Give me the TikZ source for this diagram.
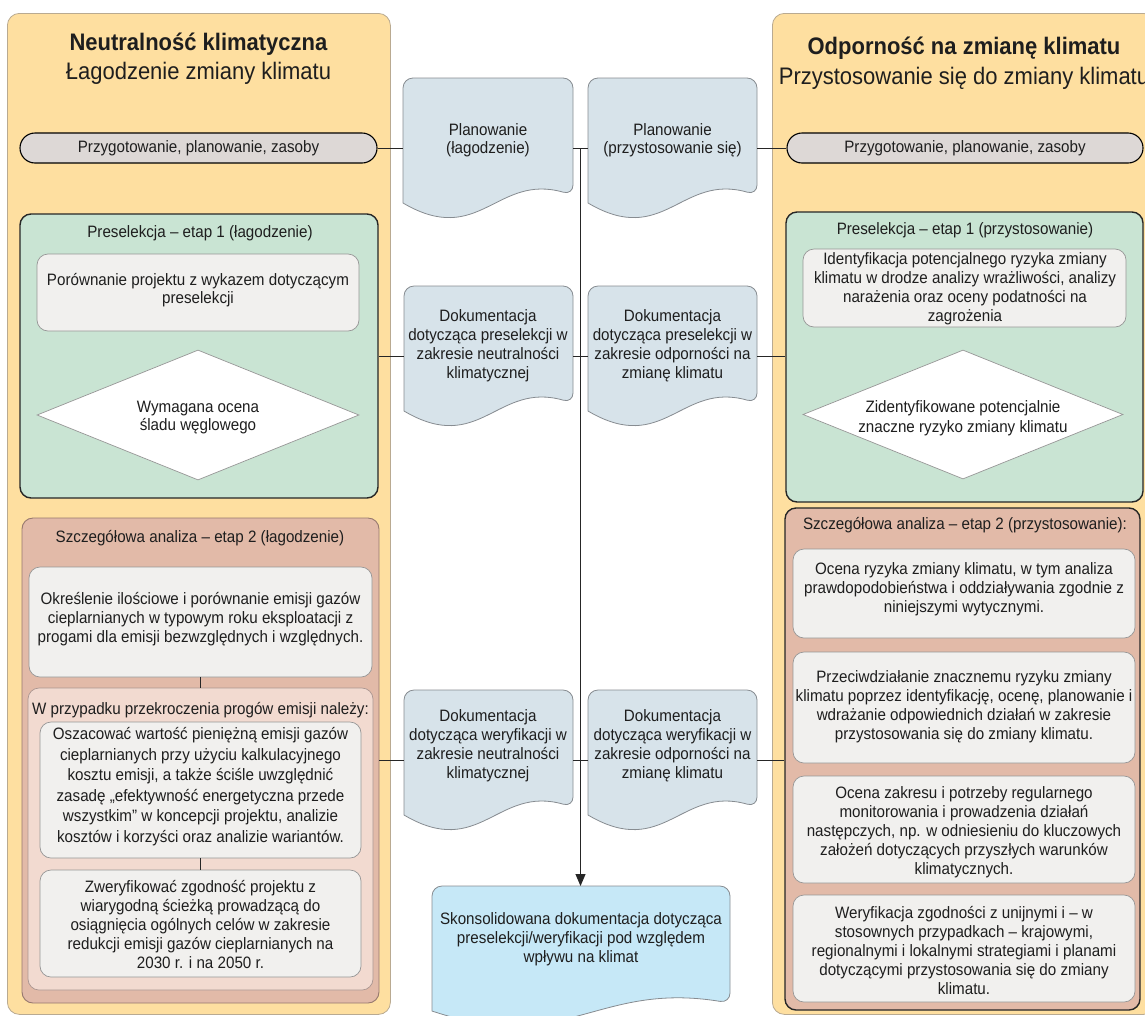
\documentclass[tikz,border=0pt]{standalone}
\usepackage{fontspec}
\setmainfont{Liberation Sans}[FakeStretch=0.92]
\usetikzlibrary{shapes.geometric,arrows.meta,calc}
\definecolor{panelY}{RGB}{254,223,160}
\definecolor{panelYline}{RGB}{185,170,145}
\definecolor{pillG}{RGB}{221,216,214}
\definecolor{docB}{RGB}{215,227,234}
\definecolor{docLine}{RGB}{135,140,145}
\definecolor{greenB}{RGB}{201,228,211}
\definecolor{innerG}{RGB}{241,240,238}
\definecolor{innerLine}{RGB}{150,150,150}
\definecolor{redB}{RGB}{226,186,168}
\definecolor{redLine}{RGB}{150,120,110}
\definecolor{pinkB}{RGB}{242,218,208}
\definecolor{pinkLine}{RGB}{170,150,145}
\definecolor{skonB}{RGB}{198,232,247}
\definecolor{txtc}{RGB}{30,30,30}

\newcommand\docnode[5]{%
  \draw[docline,fill=#5] (#2,#3+125) [rounded corners=10pt] -- (#2,#3) -- (#4,#3) -- (#4,#3+117)
    [sharp corners] .. controls ({#2+0.55*(#4-#2)},#3+95) and ({#2+0.45*(#4-#2)},#3+170) .. (#2,#3+125) -- cycle;
  \node[docframe, minimum width={#4-#2}, minimum height=140pt, anchor=north west] (#1) at (#2,#3) {};
}
\newcommand\bodyfs[1]{\fontsize{16.5}{#1}\selectfont}

\begin{document}
\begin{tikzpicture}[x=1pt,y=-1pt,
  panel/.style={draw=panelYline, line width=0.8pt, fill=panelY, rounded corners=12pt, inner sep=0pt},
  pill/.style={draw=black, line width=1.1pt, fill=pillG, rounded corners=15pt, minimum width=357pt, minimum height=30pt, inner sep=0pt, text=txtc, font=\bodyfs{19}},
  docline/.style={draw=docLine, line width=0.8pt},
  docframe/.style={inner sep=0pt, outer sep=0pt},
  greenbox/.style={draw=black!85, line width=1.4pt, fill=greenB, rounded corners=11pt, inner sep=0pt},
  innerbox/.style={draw=innerLine, line width=0.7pt, fill=innerG, rounded corners=11pt, inner sep=0pt},
  dia/.style={diamond, draw=innerLine, line width=0.7pt, fill=white, inner sep=0pt},
  redboxL/.style={draw=redLine, line width=0.9pt, fill=redB, rounded corners=11pt, inner sep=0pt},
  redboxR/.style={draw=black!85, line width=1.4pt, fill=redB, rounded corners=11pt, inner sep=0pt},
  pinkbox/.style={draw=pinkLine, line width=0.7pt, fill=pinkB, rounded corners=11pt, inner sep=0pt},
  txt/.style={align=center, text=txtc, inner sep=0pt, font=\bodyfs{19}},
  title/.style={align=center, text=txtc, inner sep=0pt, font=\fontsize{23.9}{29.5}\selectfont},
  conn/.style={draw=black!85, line width=1pt}
]
\useasboundingbox (0,0) rectangle (1145,1015);
\clip (0,0) rectangle (1145,1015);

% panels
\node[panel, minimum width=383pt, minimum height=1001pt, anchor=north west] (panL) at (7,13) {};
\node[panel, minimum width=383pt, minimum height=1001pt, anchor=north west] (panR) at (772,13) {};
\node[title] (titL) at (198.5,58.5) {\textbf{Neutralność klimatyczna}\\Łagodzenie zmiany klimatu};
\node[title] (titR) at (964,63) {\textbf{Odporność na zmianę klimatu}\\Przystosowanie się do zmiany klimatu};

% pills
\node[pill] (pillL) at (198.5,148) {Przygotowanie, planowanie, zasoby};
\node[pill, minimum width=356pt] (pillR) at (965,148) {Przygotowanie, planowanie, zasoby};

% left green
\node[greenbox, minimum width=358pt, minimum height=284pt] (grL) at (199,356) {};
\node[txt] (grLt) at (200,233) {Preselekcja – etap 1 (łagodzenie)};
\node[innerbox, minimum width=322pt, minimum height=77pt] (porL) at (198,292.5) {};
\node[txt, font=\bodyfs{18}] (porLt) at (198,290) {Porównanie projektu z wykazem dotyczącym\\preselekcji};
\node[dia, minimum width=322pt, minimum height=130pt] (diaL) at (198,415) {};
\node[txt, font=\bodyfs{18}] (diaLt) at (198,418) {Wymagana ocena\\śladu węglowego};

% right green
\node[greenbox, minimum width=357pt, minimum height=290pt] (grR) at (964.5,357) {};
\node[txt] (grRt) at (965,230) {Preselekcja – etap 1 (przystosowanie)};
\node[innerbox, minimum width=323pt, minimum height=78pt] (idR) at (964.5,288) {};
\node[txt] (idRt) at (965,289) {Identyfikacja potencjalnego ryzyka zmiany\\klimatu w drodze analizy wrażliwości, analizy\\narażenia oraz oceny podatności na\\zagrożenia};
\node[dia, minimum width=320pt, minimum height=129pt] (diaR) at (963,414.5) {};
\node[txt, font=\bodyfs{20}] (diaRt) at (963,418) {Zidentyfikowane potencjalnie\\znaczne ryzyko zmiany klimatu};

% left red
\node[redboxL, minimum width=357pt, minimum height=485pt] (redL) at (200.5,760.5) {};
\node[txt] (redLt) at (200,538) {Szczegółowa analiza – etap 2 (łagodzenie)};
\node[innerbox, minimum width=343pt, minimum height=110pt] (okrL) at (200.5,622) {};
\node[txt] (okrLt) at (200.5,619) {Określenie ilościowe i porównanie emisji gazów\\cieplarnianych w typowym roku eksploatacji z\\progami dla emisji bezwzględnych i względnych.};
\node[pinkbox, minimum width=345pt, minimum height=302pt] (pinkL) at (200.5,839) {};
\node[txt] (pinkLt) at (200.5,710) {W przypadku przekroczenia progów emisji należy:};
\node[innerbox, minimum width=321pt, minimum height=136pt] (oszL) at (200.5,790) {};
\node[txt, font=\bodyfs{20.5}] (oszLt) at (200.5,786.5) {Oszacować wartość pieniężną emisji gazów\\cieplarnianych przy użyciu kalkulacyjnego\\kosztu emisji, a także ściśle uwzględnić\\zasadę „efektywność energetyczna przede\\wszystkim” w koncepcji projektu, analizie\\kosztów i korzyści oraz analizie wariantów.};
\node[innerbox, minimum width=321pt, minimum height=107pt] (zwL) at (200.5,923.5) {};
\node[txt] (zwLt) at (200.5,924) {Zweryfikować zgodność projektu z\\wiarygodną ścieżką prowadzącą do\\osiągnięcia ogólnych celów w zakresie\\redukcji emisji gazów cieplarnianych na\\2030 r. i na 2050 r.};
\draw[conn] (okrL.south) -- (pinkL.north);
\draw[conn] (oszL.south) -- (zwL.north);

% right red
\node[redboxR, minimum width=355pt, minimum height=502pt] (redR) at (962.5,759) {};
\node[txt] (redRt) at (965,525) {Szczegółowa analiza – etap 2 (przystosowanie):};
\node[innerbox, minimum width=342pt, minimum height=89pt] (aR) at (964,593.5) {};
\node[txt] (aRt) at (964,589.5) {Ocena ryzyka zmiany klimatu, w tym analiza\\prawdopodobieństwa i oddziaływania zgodnie z\\niniejszymi wytycznymi.};
\node[innerbox, minimum width=342pt, minimum height=111pt] (bR) at (964,707.5) {};
\node[txt] (bRt) at (964,706.5) {Przeciwdziałanie znacznemu ryzyku zmiany\\klimatu poprzez identyfikację, ocenę, planowanie i\\wdrażanie odpowiednich działań w zakresie\\przystosowania się do zmiany klimatu.};
\node[innerbox, minimum width=342pt, minimum height=107pt] (cR) at (964,829.5) {};
\node[txt] (cRt) at (964,832) {Ocena zakresu i potrzeby regularnego\\monitorowania i prowadzenia działań\\następczych, np. w odniesieniu do kluczowych\\założeń dotyczących przyszłych warunków\\klimatycznych.};
\node[innerbox, minimum width=342pt, minimum height=107pt] (dR) at (964,948.5) {};
\node[txt] (dRt) at (964,950) {Weryfikacja zgodności z unijnymi i – w\\stosownych przypadkach – krajowymi,\\regionalnymi i lokalnymi strategiami i planami\\dotyczącymi przystosowania się do zmiany\\klimatu.};

% documents
\docnode{d1L}{403}{78}{573}{docB}
\node[txt, font=\bodyfs{18.3}] (d1Lt) at (488,140) {Planowanie\\(łagodzenie)};
\docnode{d1R}{588}{78}{757}{docB}
\node[txt, font=\bodyfs{18.3}] (d1Rt) at (672.5,140) {Planowanie\\(przystosowanie się)};
\docnode{d2L}{404}{286}{573}{docB}
\node[txt] (d2Lt) at (488,346) {Dokumentacja\\dotycząca preselekcji w\\zakresie neutralności\\klimatycznej};
\docnode{d2R}{588}{286}{757}{docB}
\node[txt] (d2Rt) at (672.5,346) {Dokumentacja\\dotycząca preselekcji w\\zakresie odporności na\\zmianę klimatu};
\docnode{d3L}{404}{690}{573}{docB}
\node[txt] (d3Lt) at (488,746) {Dokumentacja\\dotycząca weryfikacji w\\zakresie neutralności\\klimatycznej};
\docnode{d3R}{588}{690}{757}{docB}
\node[txt] (d3Rt) at (672.5,746) {Dokumentacja\\dotycząca weryfikacji w\\zakresie odporności na\\zmianę klimatu};
\docnode{sk}{432}{886}{730}{skonB}
\node[txt] (skt) at (581,939) {Skonsolidowana dokumentacja dotycząca\\preselekcji/weryfikacji pod względem\\wpływu na klimat};

% connectors
\draw[conn] (pillL.east) -- (d1L.west);
\draw[conn] (d1L.east) -- (d1R.west);
\draw[conn] (d1R.east) -- (pillR.west);
\draw[conn] (grL.east) -- (grL.east -| d2L.west);
\draw[conn] (d2L.east) -- (d2R.west);
\draw[conn] (d2R.east) -- (d2R.east -| grR.west);
\draw[conn] (d3L.west -| redL.east) -- (d3L.west);
\draw[conn] (d3L.east) -- (d3R.west);
\draw[conn] (d3R.east) -- (d3R.east -| redR.west);
\coordinate (hub) at ($(d1L.east)!0.5!(d1R.west)$);
\draw[conn, -{Triangle[width=10pt,length=12pt]}] (hub) -- (hub |- sk.north);
\end{tikzpicture}
\end{document}
